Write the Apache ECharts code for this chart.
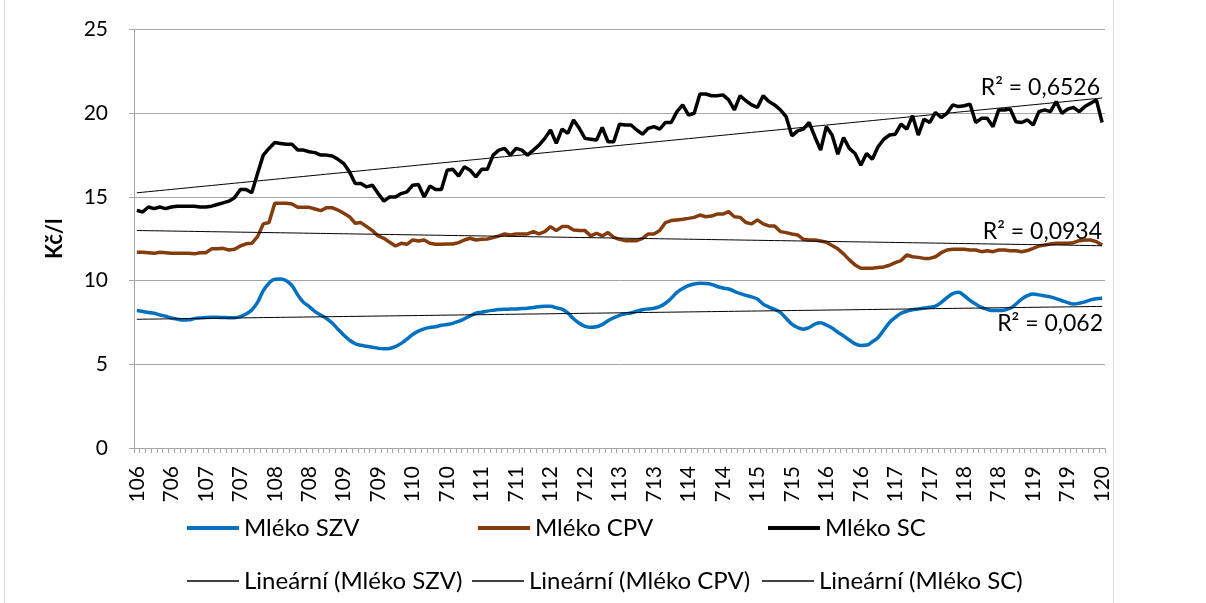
<!DOCTYPE html>
<html lang="cs">
<head>
<meta charset="UTF-8">
<title>Mléko - ceny</title>
<script src="https://cdn.jsdelivr.net/npm/echarts@6/dist/echarts.min.js"></script>
</head>
<body style="margin:0; background:#fff">
<div id="chart" style="width:1206px; height:603px"></div>
<script>
// monthly prices Kč/l, 1/2006 .. 1/2020
const years = ['06','07','08','09','10','11','12','13','14','15','16','17','18','19','20'];

const szv = [
  8.21, 8.16, 8.1, 8.05, 7.95, 7.87, 7.77, 7.7, 7.65, 7.66,
  7.73, 7.77, 7.8, 7.81, 7.81, 7.8, 7.79, 7.79, 7.85, 8.0,
  8.25, 8.7, 9.4, 9.85, 10.09, 10.1, 10.0, 9.7, 9.15, 8.7,
  8.45, 8.15, 7.95, 7.74, 7.47, 7.1, 6.75, 6.45, 6.23, 6.14,
  6.08, 6.02, 5.96, 5.93, 5.95, 6.06, 6.25, 6.5, 6.78, 6.98,
  7.12, 7.2, 7.25, 7.33, 7.38, 7.45, 7.57, 7.72, 7.89, 8.05,
  8.11, 8.18, 8.23, 8.27, 8.29, 8.3, 8.31, 8.33, 8.35, 8.4,
  8.44, 8.47, 8.47, 8.38, 8.3, 8.07, 7.72, 7.45, 7.27, 7.21,
  7.24, 7.38, 7.6, 7.78, 7.93, 8.02, 8.07, 8.17, 8.26, 8.31,
  8.35, 8.45, 8.65, 8.95, 9.3, 9.53, 9.7, 9.8, 9.84, 9.83,
  9.78, 9.65, 9.56, 9.5, 9.36, 9.22, 9.12, 9.03, 8.9, 8.6,
  8.42, 8.28, 8.1, 7.75, 7.4, 7.2, 7.1, 7.2, 7.4, 7.48,
  7.35, 7.17, 6.92, 6.7, 6.45, 6.22, 6.13, 6.15, 6.35, 6.6,
  7.05, 7.5, 7.8, 8.05, 8.17, 8.26, 8.3, 8.36, 8.41, 8.48,
  8.7, 8.98, 9.22, 9.3, 9.1, 8.82, 8.6, 8.4, 8.28, 8.21,
  8.21, 8.24, 8.35, 8.6, 8.9, 9.1, 9.2, 9.15, 9.09, 9.03,
  8.92, 8.8, 8.69, 8.61, 8.65, 8.73, 8.85, 8.92, 8.95
];

const cpv = [
  11.7, 11.7, 11.67, 11.63, 11.7, 11.67, 11.63, 11.63, 11.63, 11.63,
  11.6, 11.67, 11.67, 11.9, 11.9, 11.93, 11.83, 11.87, 12.07, 12.2,
  12.23, 12.63, 13.39, 13.47, 14.62, 14.62, 14.62, 14.58, 14.38, 14.38,
  14.38, 14.28, 14.18, 14.36, 14.36, 14.22, 14.02, 13.82, 13.43, 13.47,
  13.23, 12.99, 12.67, 12.53, 12.29, 12.07, 12.23, 12.17, 12.43, 12.37,
  12.43, 12.23, 12.17, 12.17, 12.19, 12.19, 12.27, 12.43, 12.53, 12.43,
  12.47, 12.49, 12.57, 12.67, 12.79, 12.73, 12.79, 12.79, 12.79, 12.93,
  12.79, 12.93, 13.23, 12.99, 13.23, 13.23, 13.03, 12.99, 12.99, 12.67,
  12.83, 12.67, 12.87, 12.59, 12.47, 12.39, 12.39, 12.39, 12.53, 12.79,
  12.79, 12.99, 13.47, 13.59, 13.63, 13.67, 13.72, 13.78, 13.92, 13.82,
  13.86, 13.98, 13.98, 14.12, 13.82, 13.78, 13.47, 13.39, 13.63, 13.39,
  13.27, 13.27, 12.93, 12.87, 12.79, 12.73, 12.47, 12.43, 12.43, 12.37,
  12.29, 12.1, 11.9, 11.6, 11.24, 10.94, 10.74, 10.74, 10.74, 10.78,
  10.82, 10.92, 11.08, 11.2, 11.53, 11.43, 11.39, 11.33, 11.33, 11.43,
  11.67, 11.83, 11.87, 11.87, 11.87, 11.83, 11.83, 11.73, 11.79, 11.73,
  11.83, 11.83, 11.79, 11.79, 11.73, 11.8, 11.93, 12.07, 12.13, 12.19,
  12.23, 12.23, 12.23, 12.27, 12.39, 12.43, 12.43, 12.33, 12.13
];

const sc = [
  14.2, 14.1, 14.4, 14.3, 14.4, 14.3, 14.4, 14.45, 14.45, 14.45,
  14.45, 14.4, 14.4, 14.45, 14.55, 14.65, 14.75, 14.95, 15.45, 15.45,
  15.25, 16.4, 17.5, 17.9, 18.25, 18.2, 18.15, 18.15, 17.8, 17.8,
  17.7, 17.65, 17.5, 17.5, 17.45, 17.25, 17.0, 16.5, 15.8, 15.8,
  15.6, 15.7, 15.2, 14.75, 15.0, 15.0, 15.2, 15.3, 15.7, 15.75,
  15.0, 15.65, 15.45, 15.45, 16.6, 16.65, 16.25, 16.8, 16.6, 16.2,
  16.65, 16.65, 17.5, 17.8, 17.9, 17.5, 17.9, 17.8, 17.5, 17.8,
  18.1, 18.5, 19.0, 18.2, 19.05, 18.8, 19.6, 19.1, 18.5, 18.45,
  18.4, 19.15, 18.3, 18.3, 19.35, 19.3, 19.3, 19.0, 18.75, 19.1,
  19.2, 19.05, 19.45, 19.45, 20.1, 20.5, 19.9, 20.0, 21.15, 21.15,
  21.05, 21.05, 21.1, 20.8, 20.2, 21.05, 20.75, 20.5, 20.35, 21.05,
  20.7, 20.5, 20.2, 19.8, 18.65, 18.95, 19.05, 19.45, 18.6, 17.8,
  19.2, 18.7, 17.55, 18.55, 17.9, 17.6, 16.9, 17.6, 17.25, 18.0,
  18.45, 18.7, 18.75, 19.35, 19.05, 19.85, 18.7, 19.65, 19.45, 20.05,
  19.75, 20.0, 20.5, 20.4, 20.45, 20.55, 19.45, 19.7, 19.7, 19.2,
  20.2, 20.2, 20.25, 19.5, 19.45, 19.6, 19.3, 20.1, 20.2, 20.1,
  20.7, 20.0, 20.25, 20.35, 20.1, 20.4, 20.6, 20.8, 19.45
];

const seriesNames = ['Mléko SZV', 'Mléko CPV', 'Mléko SC'];
const trendNames = ['Lineární (Mléko SZV)', 'Lineární (Mléko CPV)', 'Lineární (Mléko SC)'];
const r2Labels = ['R² = 0,062', 'R² = 0,0934', 'R² = 0,6526'];

// categories like 106, 206 ... 120
let months = [];
years.forEach(function (y) {
  for (let m = 1; m <= 12; m++) months.push(m + y);
});
months = months.slice(0, sc.length);

// least squares line, same thing Excel does for "Lineární"
function trend(arr) {
  let n = arr.length, sx = 0, sy = 0, sxx = 0, sxy = 0;
  for (let i = 0; i < n; i++) {
    let x = i + 1;
    sx += x; sy += arr[i]; sxx += x * x; sxy += x * arr[i];
  }
  let b = (n * sxy - sx * sy) / (n * sxx - sx * sx);
  let a = (sy - b * sx) / n;
  return arr.map(function (v, i) { return +(a + b * (i + 1)).toFixed(4); });
}

const FONT = 'Lato, "Open Sans", sans-serif';
const chart = echarts.init(document.getElementById('chart'), null, {renderer: 'canvas'});

function mainLine(name, data, color, smooth) {
  return {
    name: name, type: 'line', data: data, symbol: 'none', smooth: smooth,
    lineStyle: {color: color, width: 3.5}, itemStyle: {color: color},
    z: 3, animation: false
  };
}
function trendLine(name, data) {
  return {
    name: name, type: 'line', data: trend(data), symbol: 'none',
    lineStyle: {color: '#000', width: 1}, itemStyle: {color: '#000'},
    z: 4, animation: false
  };
}

// one legend per entry so the columns line up like in Excel
function legendItem(name, left, top, thick) {
  return {
    data: [name], left: left, top: top,
    icon: 'rect', itemWidth: 52, itemHeight: thick,
    textStyle: {fontFamily: FONT, fontSize: 24, color: '#000'},
    selectedMode: false
  };
}

const option = {
  backgroundColor: '#fff',
  animation: false,
  grid: {left: 134, right: 101, top: 29.6, bottom: 155, containLabel: false},
  xAxis: {
    type: 'category',
    data: months,
    boundaryGap: true,
    axisLine: {lineStyle: {color: '#a6a6a6', width: 1}},
    axisTick: {show: true, interval: 0, length: 5, lineStyle: {color: '#a6a6a6'}},
    axisLabel: {
      interval: 5, rotate: 90, margin: 18,
      fontFamily: FONT, fontSize: 21, color: '#000'
    },
    splitLine: {show: false}
  },
  yAxis: {
    type: 'value', min: 0, max: 25, interval: 5,
    name: 'Kč/l', nameLocation: 'middle', nameGap: 68, nameRotate: 90,
    nameTextStyle: {fontFamily: FONT, fontSize: 22, fontWeight: 'bold', color: '#000'},
    axisLine: {show: true, lineStyle: {color: '#a6a6a6', width: 1}},
    axisTick: {show: true, length: 5, lineStyle: {color: '#a6a6a6'}},
    axisLabel: {margin: 26, fontFamily: FONT, fontSize: 21, color: '#000'},
    splitLine: {lineStyle: {color: '#a6a6a6', width: 1}}
  },
  legend: [
    legendItem(seriesNames[0], 182, 511, 4),
    legendItem(seriesNames[1], 473, 511, 4),
    legendItem(seriesNames[2], 763, 511, 4),
    legendItem(trendNames[0], 182, 564, 1.5),
    legendItem(trendNames[1], 467, 564, 1.5),
    legendItem(trendNames[2], 757, 564, 1.5)
  ],
  graphic: [
    // chart area frame (left / right edges)
    {type: 'line', shape: {x1: 4.5, y1: 0, x2: 4.5, y2: 603}, style: {stroke: '#d9d9d9', lineWidth: 1}},
    {type: 'line', shape: {x1: 1113.5, y1: 0, x2: 1113.5, y2: 603}, style: {stroke: '#d9d9d9', lineWidth: 1}},
    {type: 'text', x: 1100, y: 88, style: {text: r2Labels[2], font: '23px ' + FONT, fill: '#000', align: 'right', verticalAlign: 'middle'}},
    {type: 'text', x: 1102, y: 232, style: {text: r2Labels[1], font: '23px ' + FONT, fill: '#000', align: 'right', verticalAlign: 'middle'}},
    {type: 'text', x: 1103, y: 324, style: {text: r2Labels[0], font: '23px ' + FONT, fill: '#000', align: 'right', verticalAlign: 'middle'}}
  ],
  series: [
    mainLine(seriesNames[0], szv, '#0070c0', 0.4),
    mainLine(seriesNames[1], cpv, '#843c0c', false),
    mainLine(seriesNames[2], sc, '#000000', false),
    trendLine(trendNames[0], szv),
    trendLine(trendNames[1], cpv),
    trendLine(trendNames[2], sc)
  ]
};

chart.setOption(option);
</script>
</body>
</html>
